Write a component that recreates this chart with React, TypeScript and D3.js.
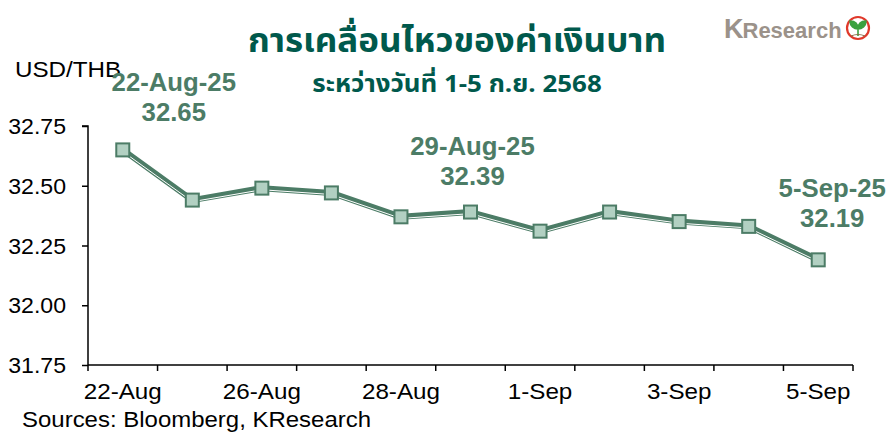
import React, { useEffect, useRef } from "react";
import * as d3 from "d3";

const dates = [
  "22-Aug", "25-Aug", "26-Aug", "27-Aug", "28-Aug", "29-Aug",
  "1-Sep", "2-Sep", "3-Sep", "4-Sep", "5-Sep",
];
const rates = [32.65, 32.44, 32.49, 32.47, 32.37, 32.39, 32.31, 32.39, 32.35, 32.33, 32.19];
const shownLabels = ["22-Aug", "26-Aug", "28-Aug", "1-Sep", "3-Sep", "5-Sep"];
const yTicks = [31.75, 32.0, 32.25, 32.5, 32.75];
const callouts = [
  { date: "22-Aug", title: "22-Aug-25", value: 32.65 },
  { date: "29-Aug", title: "29-Aug-25", value: 32.39 },
  { date: "5-Sep", title: "5-Sep-25", value: 32.19 },
];

const green = "#4c7c66";
const markerFill = "#b2d0c2";
const titleColor = "#00594c";
const font = "'Liberation Sans', Arial, sans-serif";
const thaiFont = "'Noto Sans Thai', Tahoma, Loma, 'Liberation Sans', sans-serif";

type Sel = d3.Selection<any, unknown, null, undefined>;

// text drawn a bit wider than the font, like the source picture
function wideText(parent: Sel, x: number, y: number, s: number, anchor: string) {
  return parent.append("text")
    .attr("transform", `translate(${x},${y}) scale(${s},1)`)
    .attr("text-anchor", anchor);
}

const App: React.FC = () => {
  const svgRef = useRef<SVGSVGElement | null>(null);
  const width = 888;
  const height = 432;
  const left = 88;
  const right = 853;
  const top = 126;
  const bottom = 365;

  useEffect(() => {
    const svg = d3.select(svgRef.current) as unknown as Sel;
    svg.selectAll("*").remove();
    svg.attr("width", width).attr("height", height);

    const x = d3.scaleBand().domain(dates).range([left, right]).padding(0);
    const y = d3.scaleLinear().domain([31.75, 32.75]).range([bottom, top]);
    const cx = (d: string) => (x(d) as number) + x.bandwidth() / 2;

    // title
    wideText(svg, 457, 52, 1.06, "middle")
      .style("font-family", thaiFont).style("font-weight", "bold")
      .style("font-size", "33px").attr("fill", titleColor)
      .text("การเคลื่อนไหวของค่าเงินบาท");
    wideText(svg, 457, 92, 1.08, "middle")
      .style("font-family", thaiFont).style("font-weight", "bold")
      .style("font-size", "24px").attr("fill", titleColor)
      .text("ระหว่างวันที่ 1-5 ก.ย. 2568");

    // logo
    const logo = wideText(svg, 724, 38, 1.0, "start")
      .style("font-family", font).style("font-weight", "bold").attr("fill", "#9b928a");
    logo.append("tspan").style("font-size", "27px").text("K");
    logo.append("tspan").style("font-size", "22px").attr("dx", -1).text("Research");
    svg.append("circle").attr("cx", 858).attr("cy", 28).attr("r", 11)
      .attr("fill", "white").attr("stroke", "#e0392b").attr("stroke-width", 2.2);
    svg.append("path")
      .attr("d", "M858,36 L858,28 M858,29 C854,29 850,26 850,21 C855,21 858,24 858,29 M858,29 C862,29 866,26 866,21 C861,21 858,24 858,29")
      .attr("fill", "#3aa13f").attr("stroke", "#3aa13f").attr("stroke-width", 1.6);
    svg.append("path").attr("d", "M851,36 Q858,33 865,36").attr("fill", "none")
      .attr("stroke", "#8a6d4a").attr("stroke-width", 1.2);

    // unit
    wideText(svg, 15, 77, 1.1, "start")
      .style("font-family", font).style("font-size", "22px").attr("fill", "#000")
      .text("USD/THB");

    // y axis
    const axisY = d3.axisLeft(y).tickValues(yTicks).tickFormat(() => "").tickSize(6);
    const gy = svg.append("g").attr("transform", `translate(${left},0)`).call(axisY);
    gy.select(".domain").attr("stroke", "#000").attr("stroke-width", 1.5).attr("d", `M-6,${top}H0V${bottom}`);
    gy.selectAll(".tick line").attr("stroke", "#000").attr("stroke-width", 1.5);
    yTicks.forEach(v => {
      wideText(svg, 66, y(v) + 8, 1.05, "end")
        .style("font-family", font).style("font-size", "22px").attr("fill", "#000")
        .text(d3.format(".2f")(v));
    });

    // x axis with ticks between categories
    const gx = svg.append("g").attr("transform", `translate(0,${bottom})`);
    gx.append("line").attr("x1", left).attr("x2", right).attr("stroke", "#000").attr("stroke-width", 1.5);
    const bounds = dates.map(d => x(d) as number).concat([right]);
    gx.selectAll(".btick").data(bounds).enter().append("line")
      .attr("x1", d => d).attr("x2", d => d).attr("y1", 0).attr("y2", 6)
      .attr("stroke", "#000").attr("stroke-width", 1.5);
    shownLabels.forEach(d => {
      wideText(svg, cx(d), bottom + 34, 1.1, "middle")
        .style("font-family", font).style("font-size", "22px").attr("fill", "#000")
        .text(d);
    });

    // series
    const pts = dates.map((d, i) => ({ d, v: rates[i] }));
    const line = d3.line<{ d: string; v: number }>().x(p => cx(p.d)).y(p => y(p.v));
    svg.append("path").datum(pts).attr("fill", "none").attr("stroke", green)
      .attr("stroke-width", 6).attr("stroke-linejoin", "round").attr("d", line);
    svg.append("path").datum(pts).attr("fill", "none").attr("stroke", "#fff")
      .attr("stroke-width", 1).attr("transform", "translate(0,1.6)").attr("d", line);

    svg.selectAll(".mk").data(pts).enter().append("rect")
      .attr("x", p => cx(p.d) - 6.5).attr("y", p => y(p.v) - 6.5)
      .attr("width", 13).attr("height", 13)
      .attr("fill", markerFill).attr("stroke", green).attr("stroke-width", 2);

    // callouts
    const offsets: Record<string, number> = { "22-Aug": 51, "29-Aug": 2, "5-Sep": 14 };
    const lift: Record<string, number> = { "22-Aug": 59, "29-Aug": 57, "5-Sep": 63 };
    callouts.forEach(c => {
      const px = cx(c.date) + offsets[c.date];
      const py = y(c.value) - lift[c.date];
      const style = (t: Sel) => t.style("font-family", font).style("font-weight", "bold")
        .style("font-size", "25px").attr("fill", green);
      style(wideText(svg, px, py, 1.03, "middle")).text(c.title);
      style(wideText(svg, px, py + 30, 1.03, "middle")).text(c.value.toFixed(2));
    });

    // source
    wideText(svg, 22, 427, 1.09, "start")
      .style("font-family", font).style("font-size", "22px").attr("fill", "#000")
      .text("Sources: Bloomberg, KResearch");
  }, []);

  return (
    <svg ref={svgRef} style={{ position: "absolute", left: 0, top: 0, background: "#fff" }}></svg>
  );
};

export default App;
